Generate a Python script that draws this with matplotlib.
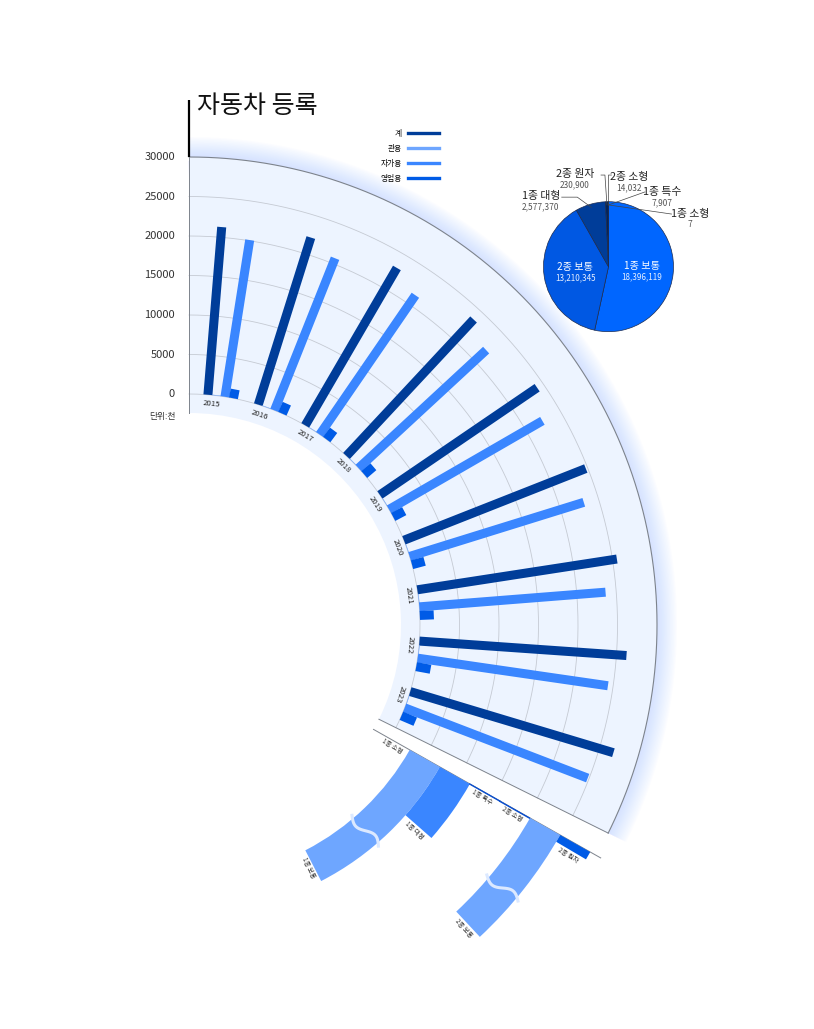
import numpy as np
import matplotlib.pyplot as plt
from matplotlib.lines import Line2D

plt.rcParams['font.family'] = ['Noto Sans CJK KR', 'DejaVu Sans']

# 자동차 등록 대수 (단위: 천)
years = ['2015', '2016', '2017', '2018', '2019', '2020', '2021', '2022', '2023']
total = [21300, 22170, 23060, 23610, 24090, 24750, 25560, 26270, 26860]
official = [65, 67, 69, 71, 73, 74, 76, 78, 80]
private = [20090, 20730, 21390, 22000, 22420, 23090, 23650, 24340, 24820]
business = [1140, 1390, 1460, 1520, 1580, 1650, 1770, 1840, 1900]
series_names = ['계', '관용', '자가용', '영업용']
y_ticks = [0, 5000, 10000, 15000, 20000, 25000, 30000]

# 운전면허 종류별
lic_names = ['1종 소형', '1종 보통', '1종 대형', '1종 특수', '2종 소형', '2종 보통', '2종 원자']
lic_counts = [7, 18396119, 2577370, 7907, 14032, 13210345, 230900]

# layout, in pixels of the 814x1029 picture
W, H = 814, 1029
CX, CY = 189, 625                    # centre of the radial chart
R_HOLE, R_ZERO, R_TOP, R_BOX = 212, 231, 468, 540
SECTOR = (0.0, 116.4)                # degrees, clockwise from north
FIRST, STEP, SUB = 4.7, 12.756, 2.13  # first bar, year step, bar step (deg)
BAR_W = 6.5

series_colors = ['#003d99', '#6ea6ff', '#3a86ff', '#005be6']

# bottom chart (licence types as angular bars)
BASE = 119.5
BAND = (219, 461)
DEG_PER = 11.8 / 2577370
broken = {'1종 보통': 33.2, '2종 보통': 17.5}   # shown length after axis break
lic_colors = ['#003d99', '#6ea6ff', '#3a86ff', '#0a4fcf', '#0a4fcf', '#6ea6ff', '#005be6']

# pie
PX, PY, PR = 608.5, 266.7, 65
pie_colors = {'1종 보통': '#0066ff', '2종 보통': '#0058e3', '1종 대형': '#003d99',
              '2종 원자': '#00245e', '2종 소형': '#001a40', '1종 특수': '#001a40',
              '1종 소형': '#001a40'}

S = (R_TOP - R_ZERO) / 30000.0


def r_of(p):
    # pixel radius -> data radius
    return (p - R_ZERO) / S


fig = plt.figure(figsize=(W / 100, H / 100), dpi=100)
ax = fig.add_axes([(CX - R_BOX) / W, (H - CY - R_BOX) / H, 2 * R_BOX / W, 2 * R_BOX / H],
                  projection='polar')
ax.set_theta_zero_location('N')
ax.set_theta_direction(-1)
ax.set_axis_off()

arc = np.radians(np.linspace(SECTOR[0], SECTOR[1], 300))

# glow around the outer edge
for w in np.linspace(40, 3, 14):
    ax.plot(arc, np.full(arc.size, 30000.0), color='#b3ceff', lw=w * 0.72, alpha=0.045,
            solid_capstyle='butt', zorder=0.5)

# sector background
ax.bar(np.radians(sum(SECTOR) / 2), r_of(R_TOP) - r_of(R_HOLE),
       width=np.radians(SECTOR[1] - SECTOR[0]), bottom=r_of(R_HOLE),
       color='#edf4ff', lw=0, zorder=1)

for v in y_ticks[:-1]:
    ax.plot(arc, np.full(arc.size, float(v)), color='#c5cad3', lw=0.6, zorder=2)
ax.plot(arc, np.full(arc.size, 30000.0), color='#7d838c', lw=0.8, zorder=2)
for th in SECTOR:
    ax.plot([np.radians(th)] * 2, [r_of(R_HOLE), 30000], color='#7d838c', lw=0.7, zorder=2)
ax.plot([0, 0], [30000, r_of(CY - 100)], color='black', lw=1.6, clip_on=False,
        solid_capstyle='butt', zorder=2)

for v in y_ticks:
    ax.annotate(str(v), (0, v), xytext=(-10, 0), textcoords='offset points',
                ha='right', va='center', fontsize=8, color='#333333')

series = [total, official, private, business]
for i, y in enumerate(years):
    a0 = FIRST + i * STEP
    for j, vals in enumerate(series):
        th = np.radians(a0 + j * SUB)
        ax.plot([th, th], [0, vals[i]], color=series_colors[j], lw=BAR_W,
                solid_capstyle='butt', zorder=3)
    ta = a0 + 1.2
    ax.text(np.radians(ta), r_of(222), y, rotation=-ta, rotation_mode='anchor',
            ha='center', va='center', fontsize=5.6, color='#222222', zorder=4)

# licence types below the sector
edges = np.linspace(BAND[0], BAND[1], len(lic_names) + 1)
ax.plot([np.radians(BASE)] * 2, [r_of(R_HOLE), r_of(473)], color='#7d838c', lw=0.7, zorder=2)
for k, name in enumerate(lic_names):
    ext = broken.get(name, lic_counts[k] * DEG_PER)
    lo, hi = r_of(edges[k]), r_of(edges[k + 1])
    mid_px = (edges[k] + edges[k + 1]) / 2
    ax.bar(np.radians(BASE + ext / 2), hi - lo, width=np.radians(ext), bottom=lo,
           color=lic_colors[k], lw=0, zorder=3)
    if ext < 0.2 and lic_counts[k] > 1000:
        ax.plot([np.radians(BASE + ext)] * 2, [lo, hi], color=lic_colors[k], lw=1.0, zorder=3)
    if name in broken:
        rr = np.linspace(edges[k] - 3, edges[k + 1] + 3, 80)
        amp = np.degrees(4.5 / mid_px)
        wave = BASE + 0.6 * ext + amp * np.sin(2 * np.pi * (rr - rr[0]) / (rr[-1] - rr[0]))
        ax.plot(np.radians(wave), r_of(rr), color='#dce9ff', lw=2.2, zorder=4)
    la = BASE + ext + np.degrees(5.5 / mid_px)
    ax.text(np.radians(la), r_of(mid_px), name, rotation=90 - la, rotation_mode='anchor',
            ha='center', va='center', fontsize=4.6, color='#333333', zorder=5)

ax.set_rlim(r_of(0), r_of(R_BOX))

# pie of licence types
order = list(np.argsort(lic_counts)[::-1])
pax = fig.add_axes([(PX - PR * 1.02) / W, (H - PY - PR * 1.02) / H,
                    2 * PR * 1.02 / W, 2 * PR * 1.02 / H])
wedges, _ = pax.pie([lic_counts[i] for i in order],
                    colors=[pie_colors[lic_names[i]] for i in order],
                    startangle=90, counterclock=False,
                    wedgeprops=dict(edgecolor='#1c2b4f', linewidth=0.5))
pax.set_xlim(-1.02, 1.02)
pax.set_ylim(-1.02, 1.02)
pax.set_aspect('equal')

callouts = {
    '1종 대형': ((-1.04, 1.09), [(-0.72, 1.07), (-0.48, 1.07)]),
    '2종 원자': ((-0.52, 1.42), [(-0.115, 1.41), (-0.055, 1.41)]),
    '2종 소형': ((0.32, 1.38), [(0.045, 1.41), (0.0, 1.41)]),
    '1종 특수': ((0.83, 1.15), [(0.56, 1.15)]),
    '1종 소형': ((1.25, 0.81), [(0.97, 0.81)]),
}
pie_sum = float(sum(lic_counts))
for wdg, i in zip(wedges, order):
    name, cnt = lic_names[i], lic_counts[i]
    mid = np.radians((wdg.theta1 + wdg.theta2) / 2)
    if cnt / pie_sum > 0.3:
        x, y = 0.52 * np.cos(mid), 0.52 * np.sin(mid)
        pax.text(x, y + 0.07, name, color='white', fontsize=7.3, ha='center', va='center')
        pax.text(x, y - 0.10, f'{cnt:,}', color='#e6efff', fontsize=5.8, ha='center', va='center')
    else:
        (lx, ly), pts = callouts[name]
        xs = [p[0] for p in pts] + [0.95 * np.cos(mid)]
        ys = [p[1] for p in pts] + [0.95 * np.sin(mid)]
        pax.plot(xs, ys, color='#444444', lw=0.5, clip_on=False)
        pax.text(lx, ly, name, color='#222222', fontsize=7.8, ha='center', va='center')
        pax.text(lx, ly - 0.165, f'{cnt:,}', color='#555555', fontsize=6, ha='center', va='center')

# title, legend, unit
fig.text(197 / W, 1 - 106 / H, '자동차 등록', fontsize=18, ha='left', va='center', color='#111111')
handles = [Line2D([], [], color=c, lw=2.4) for c in series_colors]
fig.legend(handles, series_names, loc='upper right', bbox_to_anchor=(439 / W, 1 - 130 / H),
           frameon=False, markerfirst=False, fontsize=5.6, handlelength=4.0,
           handletextpad=0.8, labelspacing=0.9, borderpad=0, borderaxespad=0)
fig.text(162 / W, 1 - 416 / H, '단위:천', fontsize=6.3, ha='center', va='center', color='#333333')

fig.savefig('out.png', dpi=100)
